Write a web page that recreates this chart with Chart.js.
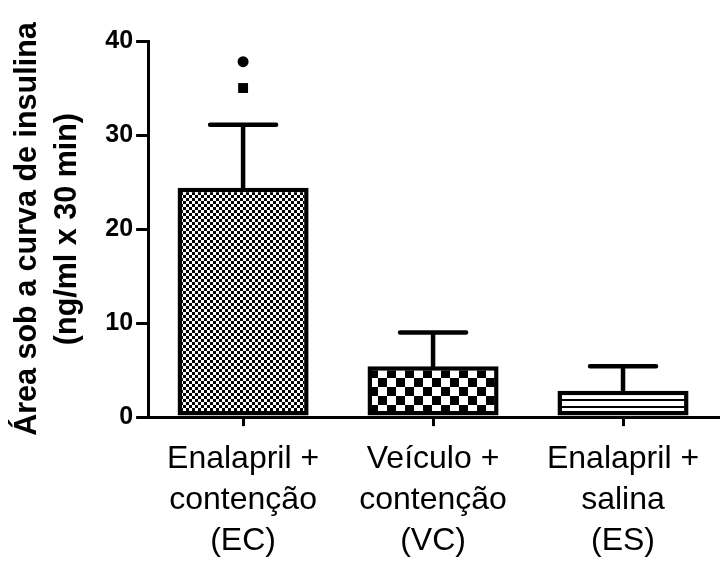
<!DOCTYPE html>
<html>
<head>
<meta charset="utf-8">
<script src="https://cdn.jsdelivr.net/npm/chart.js@4"></script>
<style>
  body { margin: 0; background: #fff; }
  #wrap { width: 725px; height: 561px; }
</style>
</head>
<body>
<div id="wrap"><canvas id="barChart"></canvas></div>
<script>
// data
const categories = [
  ["Enalapril +", "contenção", "(EC)"],
  ["Veículo +", "contenção", "(VC)"],
  ["Enalapril +", "salina", "(ES)"]
];
const means = [24.4, 5.4, 2.8];
const errors = [6.7, 3.6, 2.6];
const markDot = [37.8, null, null];
const markSquare = [35.0, null, null];
const yMax = 40;
const yStep = 10;

// fill patterns
function checker(size) {
  const c = document.createElement("canvas");
  c.width = size * 2; c.height = size * 2;
  const g = c.getContext("2d");
  g.fillStyle = "#fff"; g.fillRect(0, 0, c.width, c.height);
  g.fillStyle = "#000";
  g.fillRect(0, 0, size, size);
  g.fillRect(size, size, size, size);
  return g.createPattern(c, "repeat");
}
function hlines(gap, w) {
  const c = document.createElement("canvas");
  c.width = 8; c.height = gap;
  const g = c.getContext("2d");
  g.fillStyle = "#fff"; g.fillRect(0, 0, 8, gap);
  g.fillStyle = "#000"; g.fillRect(0, 0, 8, w);
  return g.createPattern(c, "repeat");
}
const fills = [checker(3), checker(9), hlines(7, 2)];

const errorBars = {
  id: "errorBars",
  afterDatasetsDraw(chart) {
    const ctx = chart.ctx;
    const y = chart.scales.y;
    const meta = chart.getDatasetMeta(0);
    ctx.save();
    ctx.strokeStyle = "#000";
    ctx.lineWidth = 4.5;
    ctx.lineCap = "round";
    meta.data.forEach((bar, i) => {
      const top = y.getPixelForValue(means[i] + errors[i]);
      ctx.beginPath();
      ctx.moveTo(bar.x, bar.y);
      ctx.lineTo(bar.x, top);
      ctx.moveTo(bar.x - 33, top);
      ctx.lineTo(bar.x + 33, top);
      ctx.stroke();
    });
    ctx.restore();
  }
};

Chart.defaults.font.family = "'Liberation Sans', Arial, sans-serif";
Chart.defaults.color = "#000";

new Chart(document.getElementById("barChart"), {
  data: {
    labels: categories,
    datasets: [
      {
        type: "bar",
        data: means,
        backgroundColor: fills,
        borderColor: "#000",
        borderWidth: 4.5,
        borderSkipped: false,
        barPercentage: 0.69,
        categoryPercentage: 1,
        order: 2
      },
      {
        type: "line",
        data: markDot,
        showLine: false,
        pointStyle: "circle",
        pointRadius: 5.5,
        pointBackgroundColor: "#000",
        pointBorderWidth: 0,
        order: 1
      },
      {
        type: "line",
        data: markSquare,
        showLine: false,
        pointStyle: "rect",
        pointRadius: 7,
        pointBackgroundColor: "#000",
        pointBorderWidth: 0,
        order: 1
      }
    ]
  },
  options: {
    responsive: true,
    maintainAspectRatio: false,
    animation: false,
    layout: { padding: { top: 41, right: 5, left: 3, bottom: -14 } },
    plugins: {
      legend: { display: false },
      tooltip: { enabled: false }
    },
    scales: {
      x: {
        border: { color: "#000", width: 3 },
        grid: { offset: false, drawOnChartArea: false, drawTicks: true, tickLength: 9, color: "#000", lineWidth: 3 },
        ticks: { font: { size: 32, lineHeight: 1.28 }, maxRotation: 0, padding: 13 },
      },
      y: {
        min: 0,
        max: yMax,
        border: { color: "#000", width: 3 },
        grid: { drawOnChartArea: false, drawTicks: true, tickLength: 12, color: "#000", lineWidth: 3 },
        ticks: { stepSize: yStep, font: { size: 25, weight: "bold" }, padding: 3 },
        title: {
          display: true,
          text: ["Área sob a curva de insulina", "(ng/ml x 30 min)"],
          font: { size: 30.5, weight: "bold", lineHeight: 1.3 },
          padding: { top: 5, bottom: 15 }
        }
      }
    }
  },
  plugins: [errorBars]
});
</script>
</body>
</html>
